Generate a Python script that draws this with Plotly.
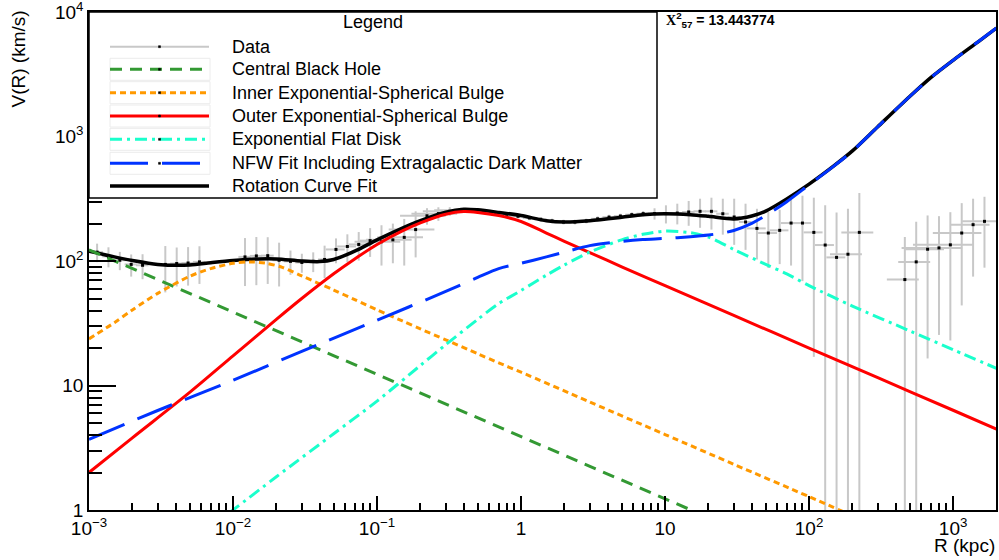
import plotly.graph_objects as go

FONT = "Liberation Sans"

# ---------------- data points (R in kpc, V in km/s) ----------------
R_data = [0.001138, 0.001365, 0.001637, 0.001963, 0.002355, 0.003388, 0.004064, 0.004875, 0.005848,
          0.01211, 0.01452, 0.01742, 0.02089, 0.02506, 0.03006, 0.03606, 0.04325, 0.05188, 0.06223,
          0.07464, 0.08954, 0.1074, 0.1288, 0.1545, 0.1854, 0.2223, 0.2667, 0.3199, 0.3837, 0.4603,
          0.5521, 0.6622, 0.7943, 0.9528, 1.143, 1.371, 1.644, 1.972, 2.366, 2.838, 3.404, 4.083,
          4.898, 5.875, 7.047, 8.453, 10.14, 12.16, 14.59, 17.50, 20.99, 25.18, 30.20, 36.22, 43.45,
          52.12, 62.52, 74.99, 89.95, 107.9, 129.4, 155.2, 186.2, 223.4,
          462.4, 554.6, 665.3, 798.0, 957.2, 1148, 1377, 1652]
V_data = [118, 109, 101.5, 94, 92.5, 94, 95.5, 96.5, 98.5,
          108, 110, 110.5, 101.5, 99.5, 97.5, 99.5, 103, 124, 131,
          136, 146, 143, 148, 155, 179, 231, 240.5, 251, 256, 253.5,
          249, 244, 237.5, 229, 222, 216.5, 210, 206, 206, 210, 218.5, 225.5,
          230, 236, 240.5, 240.5, 240.5, 243, 248, 251, 251, 240, 226, 206, 183,
          168, 176.5, 202, 202, 170, 134.5, 107, 113.5, 170,
          71, 98.5, 124.5, 127.5, 135, 168, 196, 208.5]
V_err = [20, 20, 17, 19, 21, 38, 33, 33, 33,
         45, 46, 45, 39, 22, 17, 18, 30, 28, 33,
         35, 38, 51, 52, 63, 72, 35, 30, 20, 12, 10,
         10, 9, 9, 9, 9, 9, 9, 9, 9, 9, 10, 10,
         10, 10, 12, 25, 40, 46, 56, 66, 72, 77, 91, 83, 80,
         80, 82, 110, 133, 153, 146, 138, 150, 182,
         85, 108, 108, 102, 112, 124, 121, 120]
R_err_frac = [0.1] * 9 + [0.1] * 8 + [0.15] * 4 + [0.35] * 9 + [0.15] * 4 + [0.1] * 20 + [0.15] * 8 + \
             [0.25, 0.25, 0.25, 0.25, 0.3, 0.45, 0.45, 0.37] + [0.3] * 8

# ---------------- model curves ----------------
R_bh = [0.001, 0.01, 0.1, 1, 10, 20]
V_bh = [123, 38.9, 12.3, 3.89, 1.23, 0.87]

R_inner = [0.001, 0.0015, 0.002, 0.003, 0.005, 0.007, 0.01, 0.013, 0.017, 0.022, 0.03, 0.05, 0.07,
           0.1, 0.15, 0.2, 0.3, 0.5, 0.7, 1, 3, 10, 30, 100, 200]
V_inner = [23.7, 32, 40.5, 55, 75.5, 87, 96, 98.5, 96, 89, 76, 58.5, 49, 40.5, 33, 28.5, 23.3,
           18.0, 15.2, 12.8, 7.37, 4.04, 2.33, 1.28, 0.9]

R_outer = [0.001, 0.002, 0.005, 0.01, 0.02, 0.03, 0.05, 0.07, 0.1, 0.15, 0.2, 0.3, 0.4, 0.5, 0.7,
           1, 1.5, 2, 3, 5, 10, 30, 100, 300, 1000, 2000]
V_outer = [2.0, 3.8, 8.8, 17.3, 34, 50, 79, 104, 136, 175, 203, 238, 250, 246, 232,
           208, 168, 144, 117, 90, 63.5, 36.6, 20, 11.55, 6.33, 4.47]

R_disk = [0.005, 0.01, 0.02, 0.05, 0.1, 0.2, 0.3, 0.5, 0.7, 1, 1.5, 2, 3, 5, 7, 10, 15, 20, 30,
          50, 70, 100, 200, 500, 1000, 2000]
V_disk = [0.55, 1.0, 1.85, 4.1, 7.5, 14.5, 21.3, 34, 45.5, 58, 77, 93, 118, 148, 164, 174, 169,
          156, 124, 94, 79, 63.5, 43.5, 27.5, 19.4, 13.75]

R_nfw = [0.001, 0.003, 0.01, 0.03, 0.1, 0.3, 0.5, 0.7, 1, 1.5, 2, 3, 5, 7, 10, 15, 20, 25, 30, 40,
         50, 70, 100, 150, 200, 300, 500, 700, 1000, 1500, 2000]
V_nfw = [3.7, 6.3, 11.0, 18.8, 33.5, 57, 74, 87, 96, 108, 118, 133, 144, 149, 152, 157, 162,
         168, 176, 201, 232, 300, 410, 585, 765, 1200, 2100, 2975, 4100, 5800, 7450]

R_fit = [0.001, 0.0015, 0.002, 0.003, 0.005, 0.007, 0.01, 0.015, 0.02, 0.03, 0.04, 0.05, 0.07, 0.1,
         0.15, 0.2, 0.3, 0.4, 0.5, 0.7, 1, 1.5, 2, 3, 5, 7, 10, 15, 20, 30, 40, 50, 70, 100, 150,
         200, 300, 500, 700, 1000, 1500, 2000]
V_fit = [120, 108, 101, 94, 93, 97, 101, 104, 104, 100, 99, 103, 120, 148,
         184, 211, 247, 261, 258, 246, 232, 211, 206, 211, 225, 236, 240, 236, 229, 218, 230, 252,
         316, 415, 587, 767, 1200, 2100, 2975, 4100, 5800, 7450]

X_TICKS = [0.001, 0.01, 0.1, 1, 10, 100, 1000]
X_LABELS = ["10<sup>−3</sup>", "10<sup>−2</sup>", "10<sup>−1</sup>", "1", "10", "10<sup>2</sup>", "10<sup>3</sup>"]
Y_TICKS = [1, 10, 100, 1000, 10000]
Y_LABELS = ["1", "10", "10<sup>2</sup>", "10<sup>3</sup>", "10<sup>4</sup>"]

LEGEND_NAMES = ["Data", "Central Black Hole", "Inner Exponential-Spherical Bulge",
                "Outer Exponential-Spherical Bulge", "Exponential Flat Disk",
                "NFW Fit Including Extragalactic Dark Matter", "Rotation Curve Fit"]

# ---------------- styles ----------------
GREY = "#c8c8c8"
C_GREEN = "#339933"
C_ORANGE = "#ff9900"
C_RED = "#ff0000"
C_CYAN = "#1affcc"
C_BLUE = "#0033ff"
D_GREEN = "12px,8px"
D_ORANGE = "6px,4px"
D_CYAN = "12px,5px,3px,5px"
D_BLUE = "38px,14px"

W, H = 999, 560
ML, MR, MT, MB = 89, 3, 12, 50
PW, PH = W - ML - MR, H - MT - MB


def px_x(p):
    return (p - ML) / PW


def px_y(p):
    return (H - MB - p) / PH


fig = go.Figure()

R_err = [f * r for f, r in zip(R_err_frac, R_data)]
fig.add_trace(go.Scatter(
    x=R_data, y=V_data, mode="markers",
    marker=dict(symbol="square", size=3, color="black"),
    error_y=dict(type="data", array=V_err, color=GREY, thickness=2, width=0),
    error_x=dict(type="data", array=R_err, color=GREY, thickness=2, width=0),
    showlegend=False))

fig.add_trace(go.Scatter(x=R_fit, y=V_fit, mode="lines",
                         line=dict(color="black", width=3.5, shape="spline", smoothing=0.8),
                         showlegend=False))
fig.add_trace(go.Scatter(x=R_bh, y=V_bh, mode="lines",
                         line=dict(color=C_GREEN, width=3, dash=D_GREEN), showlegend=False))
fig.add_trace(go.Scatter(x=R_inner, y=V_inner, mode="lines",
                         line=dict(color=C_ORANGE, width=3, dash=D_ORANGE, shape="spline", smoothing=0.8),
                         showlegend=False))
fig.add_trace(go.Scatter(x=R_outer, y=V_outer, mode="lines",
                         line=dict(color=C_RED, width=3, shape="spline", smoothing=0.8),
                         showlegend=False))
fig.add_trace(go.Scatter(x=R_disk, y=V_disk, mode="lines",
                         line=dict(color=C_CYAN, width=3, dash=D_CYAN, shape="spline", smoothing=0.8),
                         showlegend=False))
fig.add_trace(go.Scatter(x=R_nfw, y=V_nfw, mode="lines",
                         line=dict(color=C_BLUE, width=3, dash=D_BLUE, shape="spline", smoothing=0.8),
                         showlegend=False))

# ---------------- legend box (drawn manually, ROOT style) ----------------
shapes = []
annotations = []
shapes.append(dict(type="rect", xref="paper", yref="paper", x0=px_x(89), x1=px_x(657),
                   y0=px_y(198), y1=px_y(12), line=dict(color="black", width=1.5),
                   fillcolor="white", layer="above"))
annotations.append(dict(text="Legend", xref="paper", yref="paper", x=px_x(373), y=px_y(22),
                        xanchor="center", yanchor="middle", showarrow=False,
                        font=dict(family=FONT, size=18, color="black")))
row_y = [46.7, 69.3, 92.7, 116, 139.3, 163.3, 186]
styles = [(GREY, 2, "solid"), (C_GREEN, 3, D_GREEN), (C_ORANGE, 3, D_ORANGE), (C_RED, 3, "solid"),
          (C_CYAN, 3, D_CYAN), (C_BLUE, 3, D_BLUE), ("black", 3.5, "solid")]
for name, yy, (col, wd, ds) in zip(LEGEND_NAMES, row_y, styles):
    if name != "Data" and name != "Rotation Curve Fit":
        shapes.append(dict(type="rect", xref="paper", yref="paper", x0=px_x(110), x1=px_x(210),
                           y0=px_y(yy + 11), y1=px_y(yy - 11), line=dict(color="#ececec", width=1),
                           layer="above"))
    shapes.append(dict(type="line", xref="paper", yref="paper", x0=px_x(110), x1=px_x(209),
                       y0=px_y(yy), y1=px_y(yy), line=dict(color=col, width=wd, dash=ds),
                       layer="above"))
    if name != "Rotation Curve Fit":
        shapes.append(dict(type="rect", xref="paper", yref="paper", x0=px_x(158.5), x1=px_x(160.5),
                           y0=px_y(yy + 1), y1=px_y(yy - 1), line=dict(color="black", width=0.5),
                           fillcolor="black", layer="above"))
    annotations.append(dict(text=name, xref="paper", yref="paper", x=px_x(230), y=px_y(yy),
                            xanchor="left", yanchor="middle", showarrow=False,
                            font=dict(family=FONT, size=18, color="black")))

annotations.append(dict(text="<b><span style='font-family:Liberation Serif'>Χ</span><sup>2</sup><sub>57</sub> = 13.443774</b>",
                        xref="paper", yref="paper", x=px_x(664), y=px_y(20), xanchor="left",
                        yanchor="middle", showarrow=False,
                        font=dict(family=FONT, size=14, color="black")))
annotations.append(dict(text="V(R) (km/s)", xref="paper", yref="paper", x=px_x(18), y=px_y(9),
                        xanchor="center", yanchor="top", textangle=-90, showarrow=False,
                        font=dict(family=FONT, size=19, color="black")))
annotations.append(dict(text="R (kpc)", xref="paper", yref="paper", x=px_x(997), y=px_y(545),
                        xanchor="right", yanchor="middle", showarrow=False,
                        font=dict(family=FONT, size=19, color="black")))

axis_common = dict(type="log", showline=True, linecolor="black", linewidth=1.5, mirror=True,
                   ticks="inside", tickcolor="black", tickwidth=1.5, showgrid=False, zeroline=False,
                   tickfont=dict(family=FONT, size=19, color="black"), tickmode="array",
                   ticklabeloverflow="allow", automargin=False)

fig.update_layout(
    width=W, height=H, margin=dict(l=ML, r=MR, t=MT, b=MB, autoexpand=False),
    paper_bgcolor="white", plot_bgcolor="white",
    showlegend=False,
    xaxis=dict(axis_common, range=[-3, 3.298], tickvals=X_TICKS, ticktext=X_LABELS, ticklen=14,
               minor=dict(ticks="inside", ticklen=7, tickcolor="black", tickwidth=1.5,
                          dtick="D1", showgrid=False)),
    yaxis=dict(axis_common, range=[0, 4.001], tickvals=Y_TICKS, ticktext=Y_LABELS, ticklen=27,
               minor=dict(ticks="inside", ticklen=13, tickcolor="black", tickwidth=1.5,
                          dtick="D1", showgrid=False)),
    shapes=shapes, annotations=annotations,
)

fig.write_html("out.html")
